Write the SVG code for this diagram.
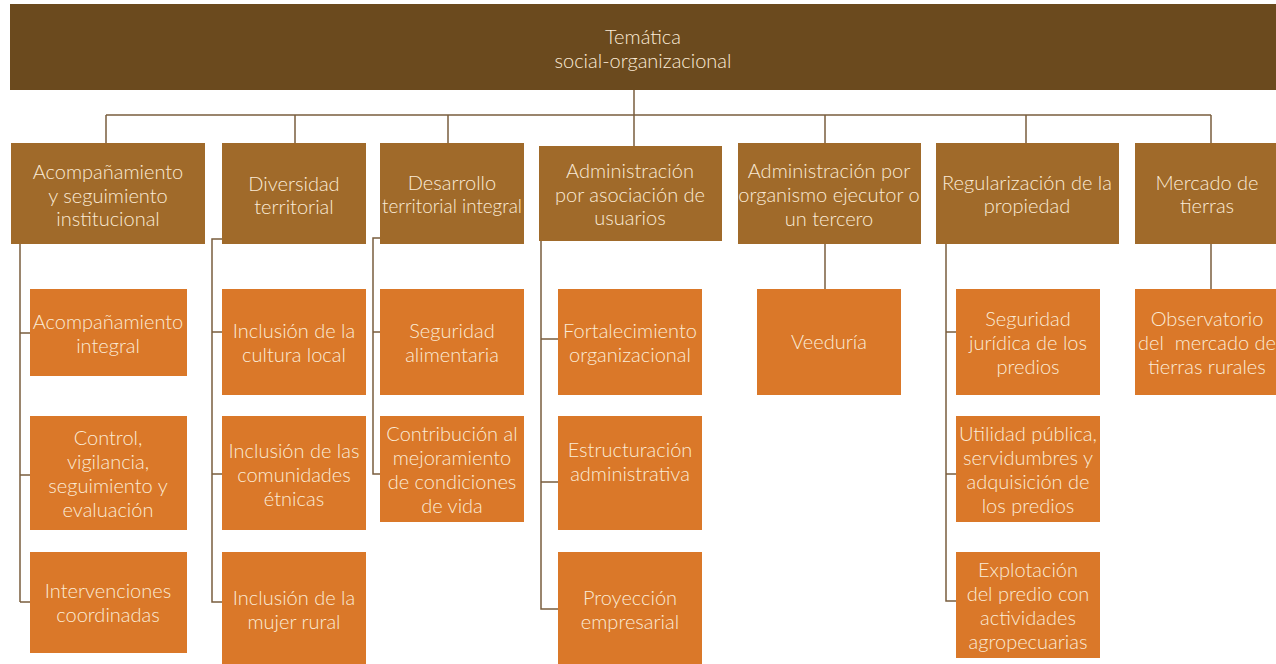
<svg xmlns="http://www.w3.org/2000/svg" width="1276" height="664" viewBox="0 0 1276 664">
<style>
.root{fill:#6B4A1E}
.l1{fill:#A06A2A}
.l2{fill:#DA7829}
text{font-family:Lato,"Open Sans","Liberation Sans",sans-serif;font-weight:300;font-size:20px;fill:#FBEBD6;text-anchor:middle}
.c{stroke:#7A5E3E;stroke-width:1.5;fill:none}
</style>
<rect width="1276" height="664" fill="#FFFFFF"/>
<g id="connectors">
<path class="c" d="M634 90V115M106 115H1211M106 115V143M295 115V143M448 115V143M634 115V146M825 115V143M1026 115V143M1211 115V143"/>
<path class="c" d="M20 244V602M20 333H30M20 475H30M20 602H30"/>
<path class="c" d="M222 239H212V602H222M212 332H222M212 474H222"/>
<path class="c" d="M380 238H373V474H380M373 332H380"/>
<path class="c" d="M541 241V609H558M541 339H558M541 482H558"/>
<path class="c" d="M825 244V289"/>
<path class="c" d="M946 244V601H956M946 332H956M946 474H956"/>
<path class="c" d="M1211 244V289"/>
</g>
<g id="root"><rect class="root" x="10" y="4" width="1266" height="86"/><text x="643" y="44">Temática</text><text x="643" y="68">social-organizacional</text></g>
<g id="n1"><rect class="l1" x="11" y="143" width="194" height="101"/><text x="108" y="179">Acompañamiento</text><text x="108" y="203">y seguimiento</text><text x="108" y="226">institucional</text></g>
<g id="n2"><rect class="l1" x="222" y="143" width="144" height="101"/><text x="294" y="191">Diversidad</text><text x="294" y="214">territorial</text></g>
<g id="n3"><rect class="l1" x="380" y="143" width="144" height="101"/><text x="452" y="190">Desarrollo</text><text x="452" y="213" textLength="140" lengthAdjust="spacingAndGlyphs">territorial integral</text></g>
<g id="n4"><rect class="l1" x="539" y="146" width="183" height="95"/><text x="630" y="178">Administración</text><text x="630" y="202">por asociación de</text><text x="630" y="225">usuarios</text></g>
<g id="n5"><rect class="l1" x="738" y="143" width="183" height="101"/><text x="829" y="178">Administración por</text><text x="829" y="202">organismo ejecutor o</text><text x="829" y="226">un tercero</text></g>
<g id="n6"><rect class="l1" x="936" y="143" width="183" height="101"/><text x="1027" y="190">Regularización de la</text><text x="1027" y="213">propiedad</text></g>
<g id="n7"><rect class="l1" x="1135" y="143" width="141" height="101"/><text x="1207" y="190">Mercado de</text><text x="1207" y="213">tierras</text></g>
<g id="n1a"><rect class="l2" x="30" y="289" width="157" height="87"/><text x="108" y="329">Acompañamiento</text><text x="108" y="353">integral</text></g>
<g id="n1b"><rect class="l2" x="30" y="416" width="157" height="114"/><text x="108" y="445">Control,</text><text x="108" y="469">vigilancia,</text><text x="108" y="493">seguimiento y</text><text x="108" y="517">evaluación</text></g>
<g id="n1c"><rect class="l2" x="30" y="552" width="157" height="101"/><text x="108" y="598">Intervenciones</text><text x="108" y="622">coordinadas</text></g>
<g id="n2a"><rect class="l2" x="222" y="289" width="144" height="106"/><text x="294" y="338">Inclusión de la</text><text x="294" y="362">cultura local</text></g>
<g id="n2b"><rect class="l2" x="222" y="416" width="144" height="114"/><text x="294" y="458">Inclusión de las</text><text x="294" y="482">comunidades</text><text x="294" y="506">étnicas</text></g>
<g id="n2c"><rect class="l2" x="222" y="552" width="144" height="112"/><text x="294" y="605">Inclusión de la</text><text x="294" y="629">mujer rural</text></g>
<g id="n3a"><rect class="l2" x="380" y="289" width="144" height="106"/><text x="452" y="338">Seguridad</text><text x="452" y="362">alimentaria</text></g>
<g id="n3b"><rect class="l2" x="380" y="416" width="144" height="106"/><text x="452" y="441">Contribución al</text><text x="452" y="465">mejoramiento</text><text x="452" y="489">de condiciones</text><text x="452" y="513">de vida</text></g>
<g id="n4a"><rect class="l2" x="558" y="289" width="144" height="106"/><text x="630" y="338">Fortalecimiento</text><text x="630" y="362">organizacional</text></g>
<g id="n4b"><rect class="l2" x="558" y="416" width="144" height="114"/><text x="630" y="457">Estructuración</text><text x="630" y="481">administrativa</text></g>
<g id="n4c"><rect class="l2" x="558" y="552" width="144" height="112"/><text x="630" y="605">Proyección</text><text x="630" y="629">empresarial</text></g>
<g id="n5a"><rect class="l2" x="757" y="289" width="144" height="106"/><text x="829" y="349">Veeduría</text></g>
<g id="n6a"><rect class="l2" x="956" y="289" width="144" height="106"/><text x="1028" y="326">Seguridad</text><text x="1028" y="350">jurídica de los</text><text x="1028" y="374">predios</text></g>
<g id="n6b"><rect class="l2" x="956" y="416" width="144" height="106"/><text x="1028" y="441" textLength="138" lengthAdjust="spacingAndGlyphs">Utilidad pública,</text><text x="1028" y="465">servidumbres y</text><text x="1028" y="489">adquisición de</text><text x="1028" y="513">los predios</text></g>
<g id="n6c"><rect class="l2" x="956" y="552" width="144" height="106"/><text x="1028" y="577">Explotación</text><text x="1028" y="601">del predio con</text><text x="1028" y="625">actividades</text><text x="1028" y="649">agropecuarias</text></g>
<g id="n7a"><rect class="l2" x="1135" y="289" width="141" height="106"/><text x="1207" y="326">Observatorio</text><text x="1207" y="350" xml:space="preserve">del  mercado de</text><text x="1207" y="374">tierras rurales</text></g>
</svg>
